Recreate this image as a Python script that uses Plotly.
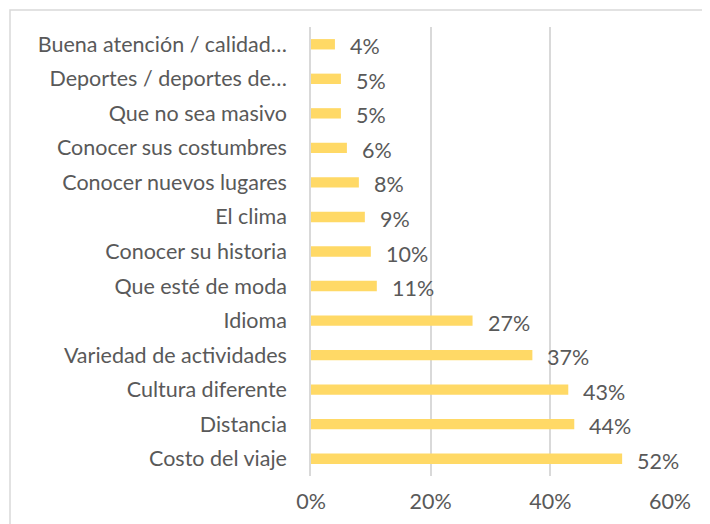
import plotly.graph_objects as go

categories = ["Costo del viaje", "Distancia", "Cultura diferente", "Variedad de actividades",
              "Idioma", "Que esté de moda", "Conocer su historia", "El clima",
              "Conocer nuevos lugares", "Conocer sus costumbres", "Que no sea masivo",
              "Deportes / deportes de…", "Buena atención / calidad…"]
values = [52, 44, 43, 37, 27, 11, 10, 9, 8, 6, 5, 5, 4]
x_ticks = [0, 20, 40, 60]
x_tick_labels = ["0%", "20%", "40%", "60%"]

FONT = "Lato, Open Sans, sans-serif"
FS = 21.5
TXT = "#595959"
GRID = "#D9D9D9"

fig = go.Figure()
fig.add_trace(go.Bar(
    y=categories, x=values, orientation="h",
    marker=dict(color="#FFD966", line=dict(width=0)),
    width=0.3, hoverinfo="skip",
))

for c, v in zip(categories, values):
    fig.add_annotation(x=v, y=c, text=f"{v}%", showarrow=False, xanchor="left",
                       xshift=13, yshift=-2, font=dict(family=FONT, size=FS, color=TXT))

# page body has an 8px margin, so the figure is placed at (8, 8)
OFF = 8
W, H = 710 - OFF, 524 - OFF
L, R, T, B = 311 - OFF, 710 - 670, 27 - OFF, 524 - OFF - 468
pw, ph = W - L - R, H - T - B
fig.add_shape(type="rect", xref="paper", yref="paper",
              x0=(10 - OFF - L) / pw, x1=(740 - L) / pw,
              y0=(H - B - 560) / ph, y1=(H - B - (10 - OFF)) / ph,
              line=dict(color=GRID, width=1.5), layer="below")

fig.update_layout(
    width=W, height=H, margin=dict(l=L, r=R, t=T, b=B, autoexpand=False),
    plot_bgcolor="white", paper_bgcolor="white",
    font=dict(family=FONT, size=FS, color=TXT),
    showlegend=False, bargap=0.7,
    xaxis=dict(range=[0, 60], tickvals=x_ticks, ticktext=x_tick_labels,
               showgrid=True, gridcolor=GRID, gridwidth=1.5, zeroline=False,
               showline=False, ticks="outside", ticklen=6, tickcolor="rgba(0,0,0,0)",
               tickfont=dict(family=FONT, size=FS, color=TXT), automargin=False),
    yaxis=dict(categoryorder="array", categoryarray=categories,
               showgrid=False, showline=True, linecolor=GRID, linewidth=1.5,
               ticks="outside", ticklen=18, tickcolor="rgba(0,0,0,0)",
               tickfont=dict(family=FONT, size=FS, color=TXT), automargin=False),
)

fig.write_html("out.html")
